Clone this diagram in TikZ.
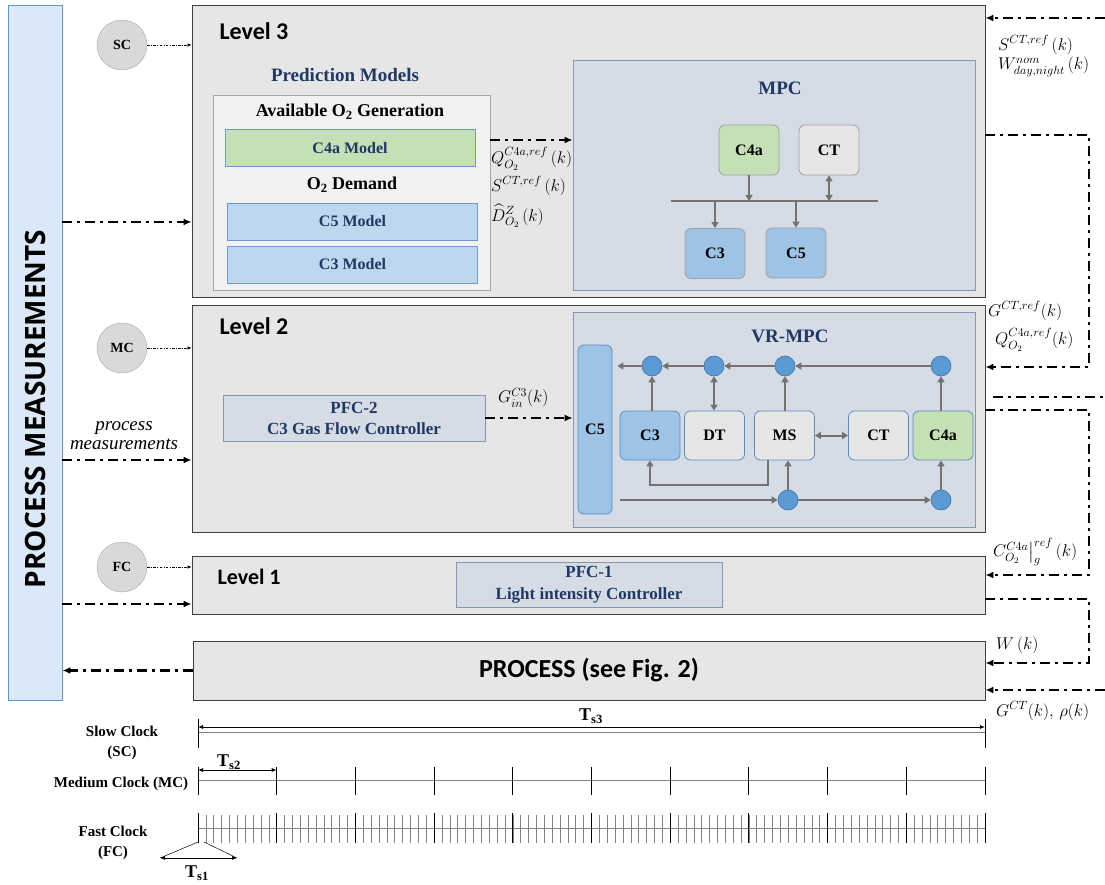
\documentclass[tikz,border=0pt]{standalone}
\usepackage{fix-cm}
\usepackage{amsmath}
\usepackage{fontspec}
\setmainfont{Liberation Serif}
\newfontfamily\lvlfont{Carlito}
\newfontfamily\pmfont{Open Sans}
\usetikzlibrary{arrows.meta}
\definecolor{lvlgray}{RGB}{231,230,230}
\definecolor{lvlline}{RGB}{64,64,64}
\definecolor{pmfill}{RGB}{218,232,247}
\definecolor{pmline}{RGB}{91,155,213}
\definecolor{circgray}{RGB}{217,217,217}
\definecolor{circline}{RGB}{166,166,166}
\definecolor{ctrlfill}{RGB}{214,220,229}
\definecolor{ctrlline}{RGB}{132,151,176}
\definecolor{predfill}{RGB}{242,242,242}
\definecolor{predline}{RGB}{166,166,166}
\definecolor{greenfill}{RGB}{197,224,180}
\definecolor{bluefill}{RGB}{189,215,238}
\definecolor{modline}{RGB}{110,155,205}
\definecolor{blueblk}{RGB}{157,195,230}
\definecolor{grayblk}{RGB}{231,230,230}
\definecolor{mpcline}{RGB}{160,160,160}
\definecolor{vrline}{RGB}{91,140,190}
\definecolor{juncblue}{RGB}{91,155,213}
\definecolor{juncline}{RGB}{65,113,156}
\definecolor{arrowgray}{RGB}{118,113,113}
\definecolor{titleblue}{RGB}{31,56,100}

\begin{document}
\begin{tikzpicture}[x=1pt, y=-1pt,
  lvlbox/.style={draw=lvlline, fill=lvlgray, line width=0.9pt, inner sep=0pt},
  lvltext/.style={anchor=west, font=\lvlfont\bfseries\fontsize{24}{28}\selectfont},
  clockcirc/.style={circle, draw=circline, fill=circgray, minimum size=50pt, inner sep=0pt, font=\bfseries\fontsize{14}{16}\selectfont},
  ctrlbox/.style={draw=ctrlline, fill=ctrlfill, line width=0.8pt, inner sep=0pt},
  bluetext/.style={text=titleblue, font=\bfseries\fontsize{19}{22}\selectfont},
  modelbox/.style={draw=modline, line width=0.8pt, inner sep=0pt, minimum width=250pt, minimum height=37pt, text=titleblue, font=\bfseries\fontsize{16}{18}\selectfont},
  block/.style={rounded corners=6pt, line width=0.8pt, inner sep=0pt, minimum width=60pt, minimum height=50pt, font=\bfseries\fontsize{16}{18}\selectfont},
  junc/.style={circle, fill=juncblue, draw=juncline, line width=0.6pt, minimum size=20pt, inner sep=0pt},
  garrow/.style={draw=arrowgray, line width=2pt, -{Triangle[length=6pt,width=7pt]}},
  gboth/.style={garrow, {Triangle[length=6pt,width=7pt]}-{Triangle[length=6pt,width=7pt]}},
  dd/.style={line width=2.2pt, dash pattern=on 10pt off 5pt on 3pt off 5pt, -{Latex[length=8pt,width=7pt]}},
  ddline/.style={dd, -},
  dotarrow/.style={line width=0.6pt, dash pattern=on 2.5pt off 1.5pt on 0.7pt off 1.5pt, -{Latex[length=4pt,width=3.5pt]}},
  sig/.style={anchor=west, inner sep=0pt, font=\fontsize{17}{19}\selectfont},
  clk/.style={font=\bfseries\fontsize{15}{20}\selectfont, align=center},
  clocktick/.style={line width=0.9pt},
  clockdim/.style={line width=0.8pt, {Latex[length=5pt,width=4pt]}-{Latex[length=5pt,width=4pt]}}
]
\useasboundingbox (0,0) rectangle (1105,885);

% Process measurements bar
\node[draw=pmline, fill=pmfill, line width=0.9pt, minimum width=54pt, minimum height=695pt, inner sep=0pt] (pm) at (35,352.5) {};
\node[rotate=90, font=\pmfont\bfseries\fontsize{28}{30}\selectfont] (pmtext) at (35,409) {PROCESS MEASUREMENTS};

% Clock circles
\node[clockcirc] (sc) at (122,45) {SC};
\node[clockcirc] (mc) at (122,348) {MC};
\node[clockcirc] (fc) at (122,567) {FC};

% Levels and process
\node[lvlbox, minimum width=793pt, minimum height=292pt] (L3) at (588.5,151) {};
\node[lvlbox, minimum width=793pt, minimum height=227pt] (L2) at (588.5,418.5) {};
\node[lvlbox, minimum width=793pt, minimum height=58pt] (L1) at (588.5,585) {};
\node[lvlbox, minimum width=792pt, minimum height=59pt] (proc) at (589,670.5) {};
\node[lvltext] (L3lab) at (216,31) {Level 3};
\node[lvltext] (L2lab) at (216,326) {Level 2};
\node[lvltext, font=\lvlfont\bfseries\fontsize{22}{26}\selectfont] (L1lab) at (214,577) {Level 1};
\node[font=\lvlfont\bfseries\fontsize{26}{30}\selectfont] (proclab) at (589,670) {PROCESS (see Fig. 2)};

% Prediction models
\node[bluetext] (predlab) at (345,75) {Prediction Models};
\node[draw=predline, fill=predfill, line width=0.8pt, minimum width=277pt, minimum height=195pt, inner sep=0pt] (pred) at (351.5,192.5) {};
\node[font=\bfseries\fontsize{18}{21}\selectfont] (genlab) at (350,112) {Available O\textsubscript{2} Generation};
\node[modelbox, fill=greenfill] (m4a) at (350,148) {C4a Model};
\node[font=\bfseries\fontsize{18}{21}\selectfont] (demlab) at (352,185) {O\textsubscript{2} Demand};
\node[modelbox, fill=bluefill] (m5) at (352.5,221.5) {C5 Model};
\node[modelbox, fill=bluefill] (m3) at (352.5,264.5) {C3 Model};

% MPC
\node[ctrlbox, minimum width=402pt, minimum height=230pt] (mpc) at (774,175) {};
\node[bluetext] (mpclab) at (780,88) {MPC};
\node[block, draw=mpcline, fill=greenfill] (a4a) at (749,150) {C4a};
\node[block, draw=mpcline, fill=grayblk] (act) at (829,150) {CT};
\node[block, draw=mpcline, fill=blueblk] (a3) at (715,253.5) {C3};
\node[block, draw=mpcline, fill=blueblk] (a5) at (796,253) {C5};
\coordinate (busL) at (671,201);
\coordinate (busR) at (878,201);
\draw[draw=arrowgray, line width=2.5pt] (busL) -- (busR);
\draw[garrow] (a4a.south) -- (a4a.south |- busL);
\draw[gboth] (act.south) -- (act.south |- busL);
\draw[garrow] (a3.north |- busL) -- (a3.north);
\draw[garrow] (a5.north |- busL) -- (a5.north);

% Prediction to MPC
\draw[dd] (pred.east |- 0,140) -- (mpc.west |- 0,140);
\node[sig] (qlab) at (491,159) {$Q_{O_2}^{C4a,ref}\,(k)$};
\node[sig] (slab) at (491,186) {$S^{CT,ref}\,(k)$};
\node[sig] (dlab) at (491,216) {$\widehat{D}_{O_2}^{Z}\,(k)$};

% Level 2 controllers
\node[ctrlbox, minimum width=262pt, minimum height=46pt, text=titleblue, align=center, font=\bfseries\fontsize{17}{21}\selectfont] (pfc2) at (354,418) {PFC-2\\C3 Gas Flow Controller};
\node[ctrlbox, minimum width=402pt, minimum height=215pt] (vr) at (774,419.5) {};
\node[bluetext] (vrlab) at (790,336) {VR-MPC};
\node[block, draw=vrline, fill=blueblk, minimum width=34pt, minimum height=169pt] (v5) at (595,429.5) {C5};
\node[block, draw=vrline, fill=blueblk, minimum height=49pt] (v3) at (650,435.5) {C3};
\node[block, draw=vrline, fill=grayblk, minimum height=49pt] (vdt) at (714.5,435.5) {DT};
\node[block, draw=vrline, fill=grayblk, minimum height=49pt] (vms) at (784.5,435.5) {MS};
\node[block, draw=vrline, fill=grayblk, minimum height=49pt] (vct) at (878.5,435.5) {CT};
\node[block, draw=vrline, fill=greenfill, minimum height=49pt] (v4a) at (943,435.5) {C4a};
\node[junc] (j1) at (652,366) {};
\node[junc] (j2) at (714,366) {};
\node[junc] (j3) at (785,366) {};
\node[junc] (j4) at (941,366) {};
\node[junc] (j5) at (788,500) {};
\node[junc] (j6) at (941,500) {};

% VR-MPC flows
\draw[garrow] (j4) -- (j3);
\draw[garrow] (j3) -- (j2);
\draw[garrow] (j2) -- (j1);
\draw[garrow, shorten >=5pt] (j1) -- (v5.east |- j1);
\draw[garrow] (j1 |- v3.north) -- (j1);
\draw[gboth] (j2 |- vdt.north) -- (j2);
\draw[garrow] (j3 |- vms.north) -- (j3);
\draw[garrow] (j4 |- v4a.north) -- (j4);
\draw[gboth] (vms) -- (vct);
\draw[garrow] ([xshift=-17pt]vms.south) -- ++(0,25) -| (v3.south);
\draw[garrow, shorten <=8pt] (v5.east |- j5) -- (j5);
\draw[garrow] (j5) -- (j6);
\draw[garrow] (j5) -- (j5 |- vms.south);
\draw[garrow] (j6) -- (j6 |- v4a.south);

% PFC-2 to VR-MPC
\draw[dd] (pfc2.east) -- (vr.west |- pfc2.east);
\node[sig] (glab) at (498,398) {$G_{in}^{C3}(k)$};

% Level 1 controller
\node[ctrlbox, minimum width=266pt, minimum height=45pt, text=titleblue, align=center, font=\bfseries\fontsize{17}{22}\selectfont] (pfc1) at (589,584.5) {PFC-1\\Light intensity Controller};

% Left side
\draw[dotarrow] (sc) -- (sc -| L3.west);
\draw[dotarrow] (mc) -- (mc -| L2.west);
\draw[dotarrow] (fc) -- (fc -| L1.west);
\draw[dd] (pm.east |- 0,222) -- (L3.west |- 0,222);
\draw[dd] (pm.east |- 0,460) -- (L2.west |- 0,460);
\node[align=center, font=\itshape\fontsize{19}{19}\selectfont] (pmlab) at (124,436) {process\\measurements};
\draw[dd] (pm.east |- 0,604) -- (L1.west |- 0,604);
\draw[dd] (proc.west) -- (pm.east |- proc.west);

% Right side
\coordinate (inTop) at (1105,18);
\draw[dd] (inTop) -- (inTop -| L3.east);
\node[sig] (sref) at (998,45) {$S^{CT,ref}\,(k)$};
\node[sig] (wnom) at (998,67) {$W_{day,night}^{nom}\,(k)$};
\coordinate (r3) at (1089,135);
\coordinate (r2) at (1089,367);
\draw[dd] (L3.east |- r3) -- (r3) -- (r2) -- (L2.east |- r2);
\node[sig] (gref) at (988,311) {$G^{CT,ref}(k)$};
\node[sig] (qref) at (995,340) {$Q_{O_2}^{C4a,ref}(k)$};
\coordinate (xa) at (993,397);
\coordinate (xb) at (1105,397);
\draw[ddline] (xa) -- (xb);
\coordinate (r2b) at (1089,410);
\coordinate (r1) at (1089,575);
\draw[dd] (L2.east |- r2b) -- (r2b) -- (r1) -- (L1.east |- r1);
\node[sig] (cref) at (993,552) {$C_{O_2}^{C4a}\bigr|_{g}^{ref}\,(k)$};
\coordinate (r1b) at (1089,599);
\coordinate (r0) at (1089,663);
\draw[dd] (L1.east |- r1b) -- (r1b) -- (r0) -- (proc.east |- r0);
\node[sig] (wk) at (996,645) {$W\,(k)$};
\coordinate (inBot) at (1105,690);
\draw[dd] (inBot) -- (inBot -| proc.east);
\node[sig] (gct) at (996,711) {$G^{CT}(k),\,\rho(k)$};

% Slow clock
\node[clk] (sclab) at (122,743) {Slow Clock\\(SC)};
\draw[gray, line width=0.6pt] (198,732) -- (985,732);
\draw[clocktick] (198,719) -- (198,748);
\draw[clocktick] (985,719) -- (985,748);
\draw[clockdim] (198,727) -- (985,727);
\node[font=\bfseries\fontsize{18}{20}\selectfont] (ts3) at (591,716) {T\textsubscript{s3}};

% Medium clock
\node[clk] (mclab) at (121,784) {Medium Clock (MC)};
\draw[gray, line width=0.6pt] (198,780) -- (985,780);
\foreach \i in {0,...,10}
  \draw[clocktick] ({198+78.7*\i},767) -- ++(0,28);
\draw[clockdim] (198,770) -- (276.7,770);
\node[font=\bfseries\fontsize{18}{20}\selectfont] (ts2) at (229,762) {T\textsubscript{s2}};

% Fast clock
\node[clk] (fclab) at (113,843) {Fast Clock\\(FC)};
\draw[gray, line width=0.6pt] (198,828) -- (985,828);
\foreach \i in {1,...,99}
  \draw[gray, line width=0.6pt] ({198+7.87*\i},815) -- ++(0,28);
\foreach \i in {0,...,10}
  \draw[clocktick] ({198+78.7*\i},813) -- ++(0,30);
\draw[line width=0.5pt] (198,842) -- (160,858);
\draw[line width=0.5pt] (204,842) -- (237,858);
\draw[clockdim] (160,858) -- (237,858);
\node[font=\bfseries\fontsize{18}{20}\selectfont] (ts1) at (197,873) {T\textsubscript{s1}};
\end{tikzpicture}
\end{document}
